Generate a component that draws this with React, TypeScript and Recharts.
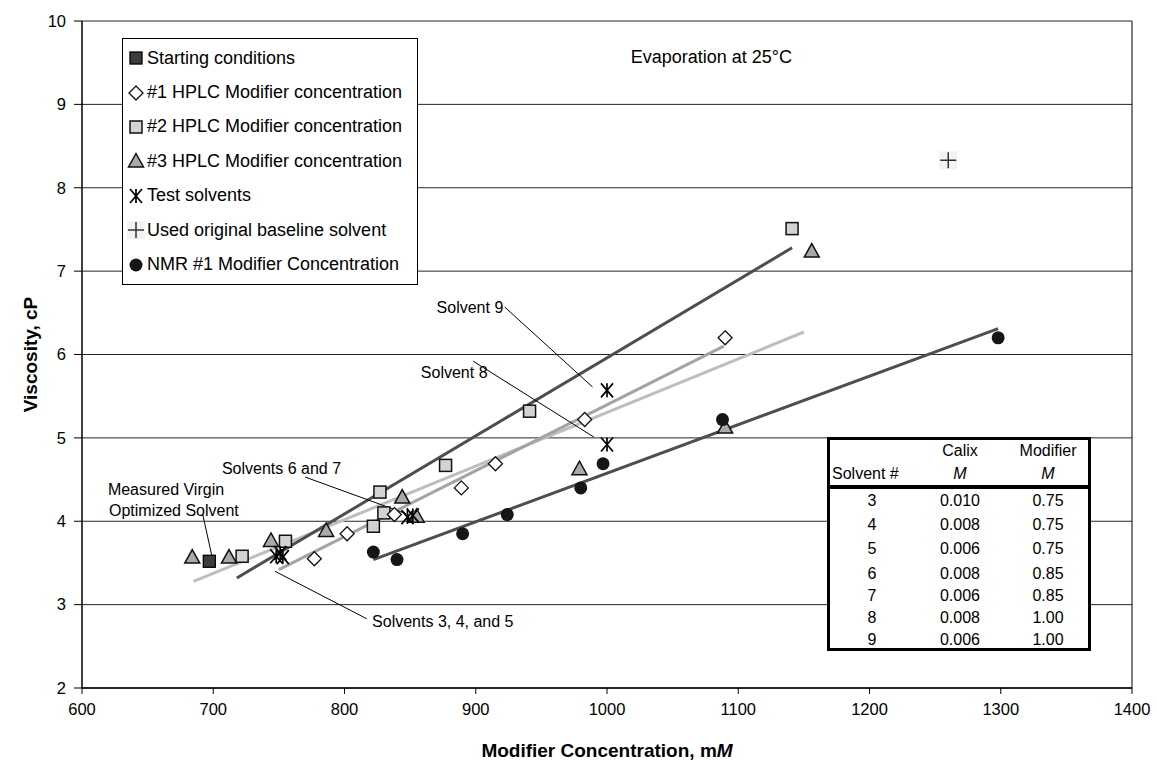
import React from 'react';
import {
  ComposedChart,
  Scatter,
  Line,
  XAxis,
  YAxis,
  CartesianGrid,
  ReferenceLine,
  ReferenceDot
} from 'recharts';

const FONT = '"Liberation Sans", Arial, Helvetica, sans-serif';

// axis ticks
const xTicks = [600, 700, 800, 900, 1000, 1100, 1200, 1300, 1400];
const yTicks = [2, 3, 4, 5, 6, 7, 8, 9, 10];

// series (modifier mM, viscosity cP)
const startingConditions = [{ x: 697, y: 3.52 }];
const hplc1 = [
  { x: 777, y: 3.55 }, { x: 802, y: 3.85 }, { x: 838, y: 4.08 }, { x: 889, y: 4.4 },
  { x: 915, y: 4.69 }, { x: 983, y: 5.22 }, { x: 1090, y: 6.2 }
];
const hplc2 = [
  { x: 722, y: 3.58 }, { x: 755, y: 3.76 }, { x: 822, y: 3.94 }, { x: 830, y: 4.1 },
  { x: 827, y: 4.35 }, { x: 877, y: 4.67 }, { x: 941, y: 5.32 }, { x: 1141, y: 7.51 }
];
const hplc3 = [
  { x: 684, y: 3.57 }, { x: 712, y: 3.57 }, { x: 744, y: 3.77 }, { x: 786, y: 3.89 },
  { x: 844, y: 4.29 }, { x: 855, y: 4.06 }, { x: 979, y: 4.63 }, { x: 1090, y: 5.13 },
  { x: 1156, y: 7.24 }
];
const testSolvents = [
  { x: 748, y: 3.58 }, { x: 751, y: 3.62 }, { x: 753, y: 3.57 },
  { x: 848, y: 4.05 }, { x: 852, y: 4.07 }, { x: 1000, y: 5.57 }, { x: 1000, y: 4.92 }
];
const baseline = [{ x: 1260, y: 8.33 }];
const nmr1 = [
  { x: 822, y: 3.63 }, { x: 840, y: 3.54 }, { x: 890, y: 3.85 }, { x: 924, y: 4.08 },
  { x: 980, y: 4.4 }, { x: 997, y: 4.69 }, { x: 1088, y: 5.22 }, { x: 1298, y: 6.2 }
];

// linear trendlines (end points)
const trendHplc2 = [{ x: 718, y: 3.32 }, { x: 1141, y: 7.28 }];
const trendHplc3 = [{ x: 685, y: 3.28 }, { x: 1150, y: 6.27 }];
const trendHplc1 = [{ x: 750, y: 3.42 }, { x: 1089, y: 6.1 }];
const trendNmr = [{ x: 822, y: 3.54 }, { x: 1298, y: 6.31 }];

// callouts
const callouts = [
  { text: 'Solvent 9', at: { x: 921, y: 6.56 }, side: 'left', from: { x: 922, y: 6.57 }, to: { x: 989, y: 5.61 } },
  { text: 'Solvent 8', at: { x: 909, y: 5.79 }, side: 'left', from: { x: 898, y: 5.92 }, to: { x: 990, y: 5.01 } },
  { text: 'Solvents 6 and 7', at: { x: 752, y: 4.64 }, side: 'center', from: { x: 770, y: 4.53 }, to: { x: 847, y: 4.09 } },
  { text: 'Solvents 3, 4, and 5', at: { x: 821, y: 2.8 }, side: 'right', from: { x: 747, y: 3.4 }, to: { x: 817, y: 2.83 } },
  { text: 'Measured Virgin', at: { x: 664, y: 4.38 }, side: 'center', from: { x: 692, y: 4.08 }, to: { x: 699, y: 3.58 } },
  { text: 'Optimized Solvent', at: { x: 670, y: 4.13 }, side: 'center', from: null, to: null }
];
const noteText = 'Evaporation at 25°C';
const notePos = { x: 1018, y: 9.57 };

// table
const tableHead = ['Solvent #', 'Calix', 'Modifier'];
const solventIds = ['3', '4', '5', '6', '7', '8', '9'];
const calixM = ['0.010', '0.008', '0.006', '0.008', '0.006', '0.008', '0.006'];
const modifierM = ['0.75', '0.75', '0.75', '0.85', '0.85', '1.00', '1.00'];

const DarkSquare = (p: any) => (
  <rect x={p.cx - 6} y={p.cy - 6} width={12} height={12} fill="#3c3c3c" stroke="#000" strokeWidth={1.3} />
);
const LightSquare = (p: any) => (
  <rect x={p.cx - 6} y={p.cy - 6} width={12} height={12} fill="#d3d3d3" stroke="#111" strokeWidth={1.5} />
);
const Diamond = (p: any) => (
  <polygon
    points={`${p.cx},${p.cy - 7} ${p.cx + 7},${p.cy} ${p.cx},${p.cy + 7} ${p.cx - 7},${p.cy}`}
    fill="#fff"
    stroke="#111"
    strokeWidth={1.3}
  />
);
const Triangle = (p: any) => (
  <polygon
    points={`${p.cx},${p.cy - 7.5} ${p.cx + 7.5},${p.cy + 6} ${p.cx - 7.5},${p.cy + 6}`}
    fill="#a9a9a9"
    stroke="#111"
    strokeWidth={1.5}
  />
);
const Star = (p: any) => (
  <g stroke="#000" strokeWidth={1.7}>
    <line x1={p.cx - 6} y1={p.cy - 7} x2={p.cx + 6} y2={p.cy + 7} />
    <line x1={p.cx + 6} y1={p.cy - 7} x2={p.cx - 6} y2={p.cy + 7} />
    <line x1={p.cx} y1={p.cy - 7} x2={p.cx} y2={p.cy + 7} />
  </g>
);
const Plus = (p: any) => (
  <g>
    <rect x={p.cx - 9} y={p.cy - 9} width={18} height={18} fill="#f2f2f2" />
    <g stroke="#333" strokeWidth={1.5}>
      <line x1={p.cx - 8} y1={p.cy} x2={p.cx + 8} y2={p.cy} />
      <line x1={p.cx} y1={p.cy - 8} x2={p.cx} y2={p.cy + 8} />
    </g>
  </g>
);
const Dot = (p: any) => <circle cx={p.cx} cy={p.cy} r={6.5} fill="#161616" />;

const legendItems = [
  { label: 'Starting conditions', Icon: DarkSquare },
  { label: '#1 HPLC Modifier concentration', Icon: Diamond },
  { label: '#2 HPLC Modifier concentration', Icon: LightSquare },
  { label: '#3 HPLC Modifier concentration', Icon: Triangle },
  { label: 'Test solvents', Icon: Star },
  { label: 'Used original baseline solvent', Icon: Plus },
  { label: 'NMR #1 Modifier Concentration', Icon: Dot }
];

const YTitle = (props: any) => {
  const vb = props.viewBox;
  const cx = vb.x + 8;
  const cy = vb.y + vb.height / 2;
  return (
    <text x={cx} y={cy} transform={`rotate(-90, ${cx}, ${cy})`} textAnchor="middle" dominantBaseline="central"
      fontSize={19} fontWeight="bold" fontFamily={FONT} fill="#000">
      Viscosity, cP
    </text>
  );
};

const XTitle = (props: any) => {
  const vb = props.viewBox;
  return (
    <text x={vb.x + vb.width / 2} y={vb.y + 62} textAnchor="middle" dominantBaseline="central"
      fontSize={19} fontWeight="bold" fontFamily={FONT} fill="#000">
      Modifier Concentration, m<tspan fontStyle="italic">M</tspan>
    </text>
  );
};

const tickStyle = { fill: '#000', fontSize: 16.5, fontFamily: FONT };

const Legend = () => (
  <div style={{
    position: 'absolute', left: 122, top: 38, width: 296, height: 247, boxSizing: 'border-box',
    border: '1px solid #000', background: '#fff', paddingTop: 2
  }}>
    {legendItems.map(({ label, Icon }) => (
      <div key={label} style={{ height: 34.4, display: 'flex', alignItems: 'center', fontSize: 18, whiteSpace: 'nowrap' }}>
        <svg width={22} height={20} style={{ marginLeft: 2 }}>
          <Icon cx={11} cy={10} />
        </svg>
        <span>{label}</span>
      </div>
    ))}
  </div>
);

const rowCenters = [500.7, 525, 549, 574, 595.7, 618, 640];
const colCenters = [872, 960, 1048];

const SolventTable = () => {
  const cell = (text: React.ReactNode, cx: number, cy: number, key: string, italic = false) => (
    <div key={key} style={{
      position: 'absolute', left: cx - 60, top: cy - 10, width: 120, height: 20, lineHeight: '20px',
      textAlign: 'center', fontSize: 16, fontStyle: italic ? 'italic' : 'normal'
    }}>{text}</div>
  );
  return (
    <div>
      <div style={{
        position: 'absolute', left: 827, top: 437, width: 264, height: 214, boxSizing: 'border-box',
        border: '3px solid #000', background: '#fff'
      }} />
      <div style={{ position: 'absolute', left: 827, top: 485, width: 264, height: 4, background: '#000' }} />
      {cell(tableHead[1], colCenters[1], 451, 'h1')}
      {cell(tableHead[2], colCenters[2], 451, 'h2')}
      <div style={{ position: 'absolute', left: 832, top: 464, height: 20, lineHeight: '20px', fontSize: 16 }}>{tableHead[0]}</div>
      {cell('M', colCenters[1], 474, 'm1', true)}
      {cell('M', colCenters[2], 474, 'm2', true)}
      {solventIds.map((s, i) => (
        <React.Fragment key={s}>
          {cell(s, colCenters[0], rowCenters[i], 's' + i)}
          {cell(calixM[i], colCenters[1], rowCenters[i], 'c' + i)}
          {cell(modifierM[i], colCenters[2], rowCenters[i], 'm' + i)}
        </React.Fragment>
      ))}
    </div>
  );
};

export default function App() {
  return (
    <div style={{ position: 'absolute', left: 0, top: 0, width: 1157, height: 767, background: '#fff', fontFamily: FONT, color: '#000' }}>
      <ComposedChart width={1157} height={767} margin={{ top: 21, right: 25, bottom: 19, left: 22 }}>
        <CartesianGrid horizontal vertical={false} stroke="#262626" />
        <XAxis type="number" dataKey="x" domain={[600, 1400]} ticks={xTicks} allowDataOverflow
          height={60} tickSize={6} tickMargin={9} tick={tickStyle}
          axisLine={{ stroke: '#000', strokeWidth: 1.5 }} tickLine={{ stroke: '#000' }} label={{ content: XTitle }} />
        <YAxis type="number" dataKey="y" domain={[2, 10]} ticks={yTicks} allowDataOverflow
          width={60} tickSize={8} tickMargin={8} tick={tickStyle}
          axisLine={{ stroke: '#000', strokeWidth: 1.5 }} tickLine={{ stroke: '#000' }} label={{ content: YTitle }} />
        <ReferenceLine x={1400} stroke="#000" strokeWidth={1} />

        <Scatter data={hplc3} dataKey="y" shape={Triangle} isAnimationActive={false} />
        <Scatter data={hplc2} dataKey="y" shape={LightSquare} isAnimationActive={false} />
        <Scatter data={hplc1} dataKey="y" shape={Diamond} isAnimationActive={false} />
        <Scatter data={startingConditions} dataKey="y" shape={DarkSquare} isAnimationActive={false} />
        <Scatter data={nmr1} dataKey="y" shape={Dot} isAnimationActive={false} />
        <Scatter data={baseline} dataKey="y" shape={Plus} isAnimationActive={false} />
        <Scatter data={testSolvents} dataKey="y" shape={Star} isAnimationActive={false} />

        <Line data={trendHplc3} dataKey="y" type="linear" stroke="#bebebe" strokeWidth={3} dot={false} activeDot={false} isAnimationActive={false} />
        <Line data={trendHplc1} dataKey="y" type="linear" stroke="#a4a4a4" strokeWidth={3} dot={false} activeDot={false} isAnimationActive={false} />
        <Line data={trendHplc2} dataKey="y" type="linear" stroke="#4e4e4e" strokeWidth={3} dot={false} activeDot={false} isAnimationActive={false} />
        <Line data={trendNmr} dataKey="y" type="linear" stroke="#4e4e4e" strokeWidth={3} dot={false} activeDot={false} isAnimationActive={false} />

        {callouts.filter((c) => c.from).map((c) => (
          <ReferenceLine key={'l' + c.text} segment={[c.from as any, c.to as any]} stroke="#000" strokeWidth={1} ifOverflow="visible" />
        ))}
        {callouts.map((c) => (
          <ReferenceDot key={'t' + c.text} x={c.at.x} y={c.at.y} r={0} fill="none" stroke="none" ifOverflow="visible"
            label={{ value: c.text, position: c.side as any, offset: 0, fill: '#000', fontSize: 16, fontFamily: FONT }} />
        ))}
        <ReferenceDot x={notePos.x} y={notePos.y} r={0} fill="none" stroke="none"
          label={{ value: noteText, position: 'right', offset: 0, fill: '#000', fontSize: 18, fontFamily: FONT }} />
      </ComposedChart>
      <Legend />
      <SolventTable />
    </div>
  );
}
